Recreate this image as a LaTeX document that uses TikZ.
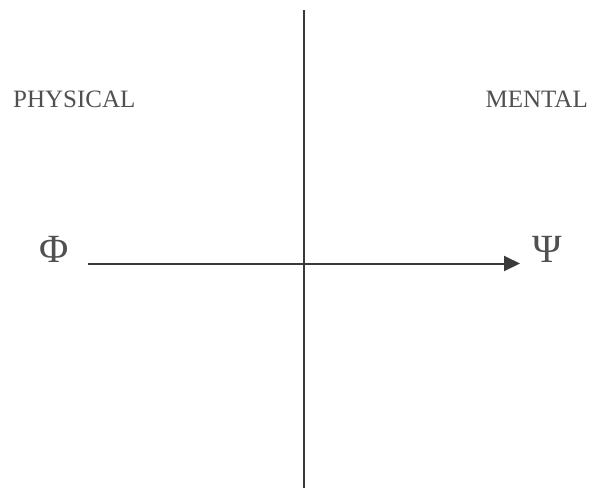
\documentclass[tikz,border=0pt]{standalone}
\usepackage{fontspec}
\setmainfont{Liberation Serif}
\usetikzlibrary{arrows.meta}

\definecolor{inkgray}{HTML}{3A3A3A}
\definecolor{textgray}{HTML}{505050}

\tikzset{
	axis/.style={draw=inkgray, line width=2pt},
	side/.style={text=textgray, inner sep=0pt, font=\fontsize{25}{30}\selectfont},
	greek/.style={text=textgray, inner sep=0pt, font=\fontsize{40}{48}\selectfont}
}

\begin{document}
\begin{tikzpicture}[x=1pt, y=-1pt]

\useasboundingbox (0,0) rectangle (593,488);

\node [side, anchor=base west] (physical) at (13,107) {PHYSICAL};
\node [side, anchor=base east] (mental) at (588,107) {MENTAL};

\node [greek, anchor=base] (phi) at (54,262) {Φ};
\node [greek, anchor=base] (psi) at (547.5,262) {Ψ};

\coordinate (top) at (303.5,10);
\coordinate (bottom) at (303.5,488);
\coordinate (start) at (88,263.5);
\coordinate (tip) at (520,263.5);

\draw [axis] (top) -- (bottom);
\draw [axis, -{Triangle[length=16pt, width=15pt]}] (start) -- (tip);

\end{tikzpicture}
\end{document}
